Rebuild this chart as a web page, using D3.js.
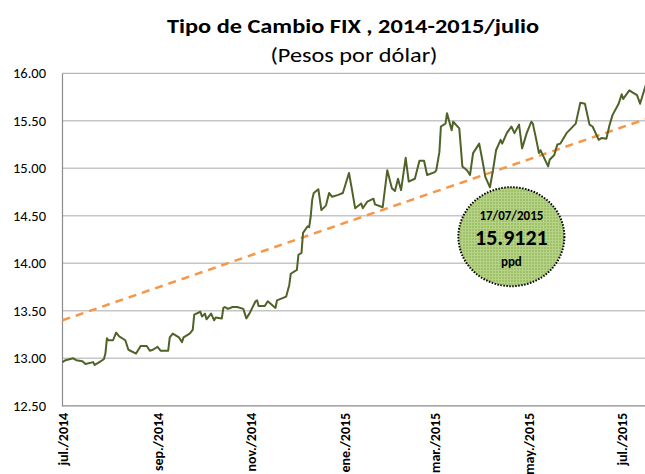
<!DOCTYPE html>
<html>
<head>
<meta charset="utf-8">
<script src="https://d3js.org/d3.v7.min.js"></script>
<style>
  body { margin: 0; background: #fff; }
  text { font-family: Carlito, Calibri, Lato, "Open Sans", sans-serif; }
</style>
</head>
<body>
<div id="chart"></div>
<script>
// FIX exchange rate
var dates = [
  "2014-07-01","2014-07-03","2014-07-08","2014-07-10","2014-07-14","2014-07-16","2014-07-21","2014-07-22",
  "2014-07-24","2014-07-28","2014-07-29","2014-07-30","2014-07-31","2014-08-03","2014-08-05","2014-08-07",
  "2014-08-11","2014-08-13","2014-08-18","2014-08-21","2014-08-25","2014-08-27","2014-08-29","2014-09-01",
  "2014-09-03","2014-09-08","2014-09-09","2014-09-11","2014-09-15","2014-09-17","2014-09-18","2014-09-22",
  "2014-09-24","2014-09-25","2014-09-29","2014-09-30","2014-10-02","2014-10-03","2014-10-06","2014-10-08",
  "2014-10-09","2014-10-13","2014-10-14","2014-10-15","2014-10-17","2014-10-20","2014-10-23","2014-10-27",
  "2014-10-29","2014-10-31","2014-11-04","2014-11-05","2014-11-06","2014-11-10","2014-11-12","2014-11-17",
  "2014-11-18","2014-11-24","2014-11-26","2014-11-27","2014-12-01","2014-12-02","2014-12-04","2014-12-05",
  "2014-12-08","2014-12-09","2014-12-10","2014-12-11","2014-12-12","2014-12-15","2014-12-17","2014-12-20",
  "2014-12-22","2014-12-24","2014-12-28","2014-12-31","2015-01-04","2015-01-06","2015-01-08","2015-01-12",
  "2015-01-13","2015-01-16","2015-01-20","2015-01-21","2015-01-26","2015-01-29","2015-02-01","2015-02-03",
  "2015-02-05","2015-02-07","2015-02-10","2015-02-12","2015-02-16","2015-02-19","2015-02-22","2015-02-24",
  "2015-03-01","2015-03-02","2015-03-04","2015-03-05","2015-03-08","2015-03-09","2015-03-12","2015-03-13",
  "2015-03-17","2015-03-19","2015-03-22","2015-03-24","2015-03-26","2015-03-30","2015-04-01","2015-04-03",
  "2015-04-06","2015-04-08","2015-04-10","2015-04-13","2015-04-14","2015-04-17","2015-04-20","2015-04-22",
  "2015-04-25","2015-04-27","2015-04-30","2015-05-03","2015-05-04","2015-05-06","2015-05-08","2015-05-09",
  "2015-05-14","2015-05-15","2015-05-18","2015-05-20","2015-05-22","2015-05-26","2015-06-01","2015-06-04",
  "2015-06-07","2015-06-10","2015-06-12","2015-06-16","2015-06-18","2015-06-21","2015-06-23","2015-06-25",
  "2015-06-29","2015-07-01","2015-07-02","2015-07-06","2015-07-08","2015-07-11","2015-07-13","2015-07-17"
];
var values = [
  12.96,12.98,13.00,12.98,12.97,12.94,12.96,12.93,
  12.95,12.99,13.05,13.21,13.19,13.19,13.27,13.23,
  13.19,13.09,13.05,13.13,13.13,13.08,13.09,13.12,
  13.08,13.08,13.22,13.26,13.22,13.17,13.22,13.26,
  13.30,13.46,13.49,13.44,13.47,13.41,13.47,13.40,
  13.43,13.42,13.53,13.54,13.52,13.54,13.54,13.52,
  13.42,13.47,13.60,13.61,13.55,13.55,13.60,13.53,
  13.61,13.65,13.77,13.89,13.93,14.09,14.11,14.32,
  14.39,14.38,14.49,14.67,14.74,14.78,14.56,14.61,
  14.74,14.70,14.72,14.74,14.95,14.77,14.58,14.63,
  14.58,14.65,14.68,14.62,14.59,14.98,14.79,14.76,
  14.89,14.77,15.11,14.86,14.89,15.08,15.08,14.93,
  14.96,14.98,15.17,15.44,15.47,15.58,15.40,15.49,
  15.42,15.02,14.98,14.93,15.16,15.26,15.09,14.91,
  14.80,14.98,15.19,15.30,15.26,15.37,15.44,15.37,
  15.46,15.21,15.37,15.49,15.47,15.32,15.16,15.19,
  15.02,15.09,15.14,15.25,15.26,15.37,15.47,15.69,
  15.68,15.46,15.44,15.30,15.32,15.31,15.45,15.56,
  15.68,15.78,15.73,15.82,15.80,15.77,15.68,15.89
];

// linear trend (start / end)
var trendDates = ["2014-07-01", "2015-07-17"];
var trendValues = [13.40, 15.52];

var yTicks = [12.5, 13, 13.5, 14, 14.5, 15, 15.5, 16];
var xTickDates = ["2014-07-01","2014-09-01","2014-11-01","2015-01-01","2015-03-01","2015-05-01","2015-07-01"];
var xTickLabels = ["jul./2014","sep./2014","nov./2014","ene./2015","mar./2015","may./2015","jul./2015"];

var noteDate = "2015-04-20", noteValue = 14.28;
var noteLines = ["17/07/2015", "15.9121", "ppd"];

var W = 645, H = 474;
var fontStack = "Carlito, Calibri, Lato, 'Open Sans', sans-serif";

var parse = d3.timeParse("%Y-%m-%d");
var data = dates.map(function (d, i) { return { date: parse(d), value: values[i] }; });
var trend = trendDates.map(function (d, i) { return { date: parse(d), value: trendValues[i] }; });

var svg = d3.select("#chart").append("svg")
  .attr("width", W).attr("height", H);

var x = d3.scaleTime()
  .domain([parse("2014-07-01"), parse("2015-07-17")])
  .range([62.5, 646.2]);

var y = d3.scaleLinear()
  .domain([12.5, 16])
  .range([405.8, 73.3]);

// title
svg.append("text")
  .attr("x", 353).attr("y", 33)
  .attr("text-anchor", "middle")
  .attr("font-size", 21).attr("font-weight", "bold")
  .attr("textLength", 372).attr("lengthAdjust", "spacingAndGlyphs")
  .text("Tipo de Cambio FIX , 2014-2015/julio");
svg.append("text")
  .attr("x", 354).attr("y", 62)
  .attr("text-anchor", "middle")
  .attr("font-size", 21)
  .attr("textLength", 167).attr("lengthAdjust", "spacingAndGlyphs")
  .text("(Pesos por dólar)");

// grid lines
svg.append("g").selectAll("line")
  .data(yTicks.filter(function (t) { return t > 12.5; }))
  .enter().append("line")
  .attr("x1", 62).attr("x2", W)
  .attr("y1", function (d) { return y(d); })
  .attr("y2", function (d) { return y(d); })
  .attr("stroke", function (d) { return d == 16 ? "#a6a6a6" : "#c6c6c6"; })
  .attr("stroke-width", function (d) { return d == 16 ? 1 : 1.5; });

// y axis
var yAxis = svg.append("g")
  .attr("transform", "translate(62,0)")
  .call(d3.axisLeft(y).tickValues(yTicks).tickSize(0).tickPadding(16)
    .tickFormat(d3.format(".2f")));
yAxis.select(".domain").attr("stroke", "#8c8c8c").attr("stroke-width", 1.2);
yAxis.selectAll("text")
  .attr("font-size", 14.5).attr("fill", "#000")
  .style("font-family", fontStack);

// x axis
var xAxis = svg.append("g")
  .attr("transform", "translate(0," + y(12.5) + ")")
  .call(d3.axisBottom(x).tickValues(xTickDates.map(parse)).tickSize(0)
    .tickFormat(function (d, i) { return xTickLabels[i]; }));
xAxis.select(".domain").attr("d", "M62,0H" + W)
  .attr("stroke", "#8c8c8c").attr("stroke-width", 1.2);
xAxis.selectAll("text")
  .attr("font-size", 14).attr("font-weight", "bold").attr("fill", "#000")
  .style("font-family", fontStack)
  .attr("text-anchor", "end")
  .attr("transform", "rotate(-90)")
  .attr("x", -7).attr("y", 0).attr("dy", "0.35em");

// trend line
svg.append("path")
  .datum(trend)
  .attr("fill", "none")
  .attr("stroke", "#f79646")
  .attr("stroke-width", 2.5)
  .attr("stroke-dasharray", "8,6")
  .attr("d", d3.line()
    .x(function (d) { return x(d.date); })
    .y(function (d) { return y(d.value); }));

// exchange rate line
svg.append("path")
  .datum(data)
  .attr("fill", "none")
  .attr("stroke", "#4f6228")
  .attr("stroke-width", 2)
  .attr("stroke-linejoin", "round")
  .attr("d", d3.line()
    .x(function (d) { return x(d.date); })
    .y(function (d) { return y(d.value); }));

// note bubble with a fine grid texture
var defs = svg.append("defs");
var pat = defs.append("pattern")
  .attr("id", "grid").attr("width", 3).attr("height", 3)
  .attr("patternUnits", "userSpaceOnUse");
pat.append("rect").attr("width", 3).attr("height", 3).attr("fill", "#9fc167");
pat.append("rect").attr("width", 3).attr("height", 1).attr("fill", "#b7d289");
pat.append("rect").attr("width", 1).attr("height", 3).attr("fill", "#b7d289");

var cx = x(parse(noteDate)), cy = y(noteValue);
svg.append("ellipse")
  .attr("cx", cx).attr("cy", cy)
  .attr("rx", 53).attr("ry", 49.5)
  .attr("fill", "url(#grid)")
  .attr("stroke", "#000")
  .attr("stroke-width", 2)
  .attr("stroke-dasharray", "1.5,1.5");

svg.append("text")
  .attr("x", cx).attr("y", cy - 17)
  .attr("text-anchor", "middle")
  .attr("font-size", 13).attr("font-weight", "bold")
  .text(noteLines[0]);
svg.append("text")
  .attr("x", cx).attr("y", cy + 8)
  .attr("text-anchor", "middle")
  .attr("font-size", 22).attr("font-weight", "bold")
  .text(noteLines[1]);
svg.append("text")
  .attr("x", cx).attr("y", cy + 29)
  .attr("text-anchor", "middle")
  .attr("font-size", 13).attr("font-weight", "bold")
  .text(noteLines[2]);
</script>
</body>
</html>
